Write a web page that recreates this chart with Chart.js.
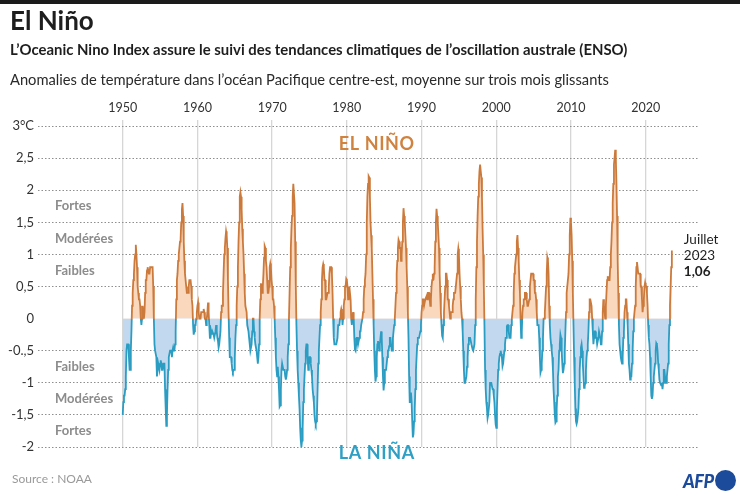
<!DOCTYPE html>
<html lang="fr">
<head>
<meta charset="utf-8">
<title>El Niño</title>
<script src="https://cdn.jsdelivr.net/npm/chart.js@4/dist/chart.umd.min.js"></script>
<style>
  html, body { margin: 0; padding: 0; background: #fff; }
  body { width: 740px; height: 496px; position: relative; overflow: hidden; font-family: Lato, "Noto Sans", sans-serif; color: #1e1e1e; }
  #topbar { position: absolute; left: 0; top: 0; width: 740px; height: 4px; background: #1b1b1b; }
  .txt { position: absolute; left: 10px; white-space: nowrap; }
  #title { top: 4px; font-size: 26px; font-weight: 700; }
  #subtitle { top: 40px; font-size: 14.9px; font-weight: 700; }
  #desc { top: 70px; font-size: 14.7px; font-weight: 400; color: #2a2a2a; }
  #source { left: 12px; top: 471px; font-size: 12px; color: #9a9a9a; }
  #afp { position: absolute; left: 683px; top: 469px; height: 22px; }
  #afp span { font-size: 18px; font-weight: 900; font-style: italic; color: #1d4b9b; letter-spacing: -0.5px; vertical-align: middle; }
  #afp i { display: inline-block; width: 21px; height: 21px; border-radius: 50%; background: #1d4b9b; vertical-align: middle; margin-left: 1px; }
  canvas { position: absolute; left: 0; top: 0; }
</style>
</head>
<body>
<canvas id="chart" width="740" height="496"></canvas>
<div id="topbar"></div>
<div class="txt" id="title">El Niño</div>
<div class="txt" id="subtitle">L’Oceanic Nino Index assure le suivi des tendances climatiques de l’oscillation australe (ENSO)</div>
<div class="txt" id="desc">Anomalies de température dans l’océan Pacifique centre-est, moyenne sur trois mois glissants</div>
<div class="txt" id="source">Source : NOAA</div>
<div id="afp"><span>AFP</span><i></i></div>
<script>
// Oceanic Nino Index, 3-month running mean, one value per month (DJF, JFM, ...)
const startYear = 1950;
const oni1950s = [
  -1.5, -1.3, -1.2, -1.2, -1.1, -0.9, -0.5, -0.4, -0.4, -0.4, -0.6, -0.8,
  -0.8, -0.5, -0.2, 0.2, 0.4, 0.6, 0.7, 0.9, 1.0, 1.15, 1.0, 0.8,
  0.5, 0.4, 0.3, 0.3, 0.2, 0.0, -0.1, 0.0, 0.2, 0.1, 0.0, 0.1,
  0.4, 0.6, 0.6, 0.75, 0.8, 0.75, 0.7, 0.7, 0.8, 0.8, 0.8, 0.8,
  0.8, 0.5, 0.0, -0.4, -0.5, -0.5, -0.6, -0.9, -0.8, -0.7, -0.7, -0.8,
  -0.7, -0.65, -0.7, -0.8, -0.8, -0.7, -0.7, -0.7, -1.1, -1.4, -1.67, -1.5,
  -1.1, -0.8, -0.6, -0.55, -0.5, -0.5, -0.5, -0.6, -0.5, -0.45, -0.5, -0.5,
  -0.4, -0.2, 0.3, 0.6, 0.7, 0.9, 1.0, 1.1, 1.2, 1.25, 1.5, 1.7,
  1.8, 1.6, 1.2, 0.9, 0.7, 0.6, 0.5, 0.4, 0.4, 0.4, 0.5, 0.6,
  0.6, 0.6, 0.5, 0.3, 0.2, -0.1, -0.25, -0.2, -0.1, -0.1, 0.0, 0.1
];
const oni1960s = [
  0.2, 0.25, 0.1, 0.0, 0.0, 0.0, 0.1, 0.1, 0.1, 0.1, 0.15, 0.1,
  0.0, 0.0, -0.1, 0.0, 0.1, 0.25, 0.1, -0.1, -0.3, -0.3, -0.2, -0.25,
  -0.2, -0.2, -0.25, -0.3, -0.3, -0.2, -0.1, -0.2, -0.3, -0.35, -0.45, -0.4,
  -0.4, -0.2, 0.1, 0.2, 0.2, 0.4, 0.7, 1.0, 1.1, 1.25, 1.36, 1.3,
  1.1, 0.6, 0.1, -0.3, -0.6, -0.6, -0.6, -0.7, -0.8, -0.83, -0.8, -0.8,
  -0.6, -0.3, -0.1, 0.2, 0.5, 0.8, 1.2, 1.5, 1.9, 1.97, 1.9, 1.7,
  1.4, 1.2, 1.0, 0.7, 0.4, 0.2, 0.2, 0.1, -0.1, -0.1, -0.2, -0.3,
  -0.4, -0.5, -0.5, -0.4, -0.2, 0.0, 0.0, -0.2, -0.3, -0.4, -0.4, -0.5,
  -0.6, -0.7, -0.6, -0.4, 0.0, 0.3, 0.55, 0.5, 0.4, 0.5, 0.7, 0.95,
  1.13, 1.1, 0.9, 0.8, 0.6, 0.4, 0.4, 0.5, 0.8, 0.86, 0.8, 0.6
];
const oni1970s = [
  0.5, 0.3, 0.3, 0.2, 0.0, -0.3, -0.6, -0.8, -0.9, -0.75, -0.9, -1.1,
  -1.37, -1.35, -1.1, -0.8, -0.7, -0.7, -0.8, -0.8, -0.8, -0.9, -0.95, -0.9,
  -0.8, -0.6, -0.4, 0.0, 0.4, 0.8, 1.1, 1.4, 1.6, 1.9, 2.1, 2.1,
  1.8, 1.2, 0.5, -0.1, -0.5, -0.8, -1.0, -1.2, -1.4, -1.7, -1.9, -2.0,
  -1.9, -1.7, -1.3, -1.1, -0.9, -0.7, -0.5, -0.4, -0.4, -0.6, -0.8, -0.7,
  -0.6, -0.6, -0.7, -0.8, -0.9, -1.1, -1.2, -1.3, -1.5, -1.6, -1.64, -1.6,
  -1.5, -1.1, -0.7, -0.5, -0.3, -0.1, 0.1, 0.3, 0.6, 0.8, 0.85, 0.8,
  0.6, 0.6, 0.3, 0.3, 0.3, 0.4, 0.4, 0.5, 0.7, 0.8, 0.8, 0.8,
  0.7, 0.4, 0.0, -0.3, -0.4, -0.4, -0.4, -0.4, -0.4, -0.3, -0.1, -0.1,
  -0.1, 0.0, 0.1, 0.15, 0.1, -0.1, 0.0, 0.2, 0.3, 0.5, 0.5, 0.62
];
const oni1980s = [
  0.6, 0.5, 0.3, 0.4, 0.5, 0.5, 0.3, 0.0, -0.1, 0.0, 0.1, 0.0,
  -0.3, -0.48, -0.5, -0.4, -0.3, -0.3, -0.4, -0.4, -0.3, -0.2, -0.2, -0.1,
  -0.1, 0.0, 0.1, 0.3, 0.5, 0.6, 0.7, 1.0, 1.5, 1.9, 2.1, 2.22,
  2.2, 1.9, 1.5, 1.3, 1.1, 0.7, 0.3, -0.1, -0.5, -0.8, -0.98, -0.9,
  -0.6, -0.4, -0.35, -0.4, -0.5, -0.4, -0.3, -0.2, -0.3, -0.6, -0.9, -1.12,
  -1.0, -0.8, -0.8, -0.8, -0.8, -0.6, -0.5, -0.5, -0.43, -0.3, -0.3, -0.4,
  -0.5, -0.5, -0.3, -0.2, -0.1, 0.0, 0.2, 0.4, 0.7, 0.9, 1.1, 1.23,
  1.2, 1.1, 1.1, 0.9, 1.0, 1.2, 1.5, 1.72, 1.6, 1.5, 1.3, 1.1,
  0.8, 0.5, 0.1, -0.3, -0.9, -1.3, -1.3, -1.15, -1.3, -1.6, -1.85, -1.8,
  -1.6, -1.4, -1.1, -0.8, -0.6, -0.4, -0.3, -0.3, -0.3, -0.3, -0.2, -0.1
];
const oni1990s = [
  0.1, 0.2, 0.3, 0.3, 0.2, 0.2, 0.3, 0.3, 0.35, 0.3, 0.4, 0.4,
  0.4, 0.3, 0.2, 0.3, 0.5, 0.6, 0.7, 0.6, 0.7, 0.8, 1.2, 1.5,
  1.71, 1.6, 1.5, 1.3, 1.1, 0.7, 0.4, 0.1, -0.1, -0.27, -0.3, -0.1,
  0.1, 0.3, 0.5, 0.7, 0.7, 0.6, 0.3, 0.3, 0.2, 0.1, 0.0, 0.1,
  0.1, 0.1, 0.2, 0.3, 0.4, 0.4, 0.4, 0.4, 0.6, 0.7, 1.0, 1.09,
  1.0, 0.7, 0.5, 0.3, 0.1, 0.0, -0.2, -0.5, -0.8, -1.0, -1.0, -1.0,
  -0.9, -0.75, -0.6, -0.4, -0.3, -0.3, -0.3, -0.3, -0.4, -0.4, -0.48, -0.5,
  -0.5, -0.4, -0.1, 0.3, 0.8, 1.2, 1.6, 1.9, 2.1, 2.3, 2.4, 2.4,
  2.2, 1.9, 1.4, 1.0, 0.5, -0.1, -0.8, -1.1, -1.3, -1.4, -1.55, -1.5,
  -1.5, -1.3, -1.0, -1.0, -1.0, -1.0, -1.1, -1.1, -1.2, -1.3, -1.5, -1.65
];
const oni2000s = [
  -1.7, -1.4, -1.1, -0.8, -0.7, -0.6, -0.55, -0.5, -0.55, -0.6, -0.74, -0.7,
  -0.7, -0.5, -0.4, -0.3, -0.3, -0.12, -0.1, -0.1, -0.2, -0.3, -0.3, -0.3,
  -0.1, 0.0, 0.1, 0.2, 0.4, 0.7, 0.8, 0.9, 1.0, 1.2, 1.3, 1.1,
  0.9, 0.6, 0.4, 0.0, -0.3, -0.2, 0.1, 0.2, 0.3, 0.3, 0.4, 0.4,
  0.4, 0.3, 0.2, 0.2, 0.2, 0.3, 0.5, 0.6, 0.7, 0.7, 0.7, 0.7,
  0.6, 0.6, 0.4, 0.4, 0.3, 0.1, -0.1, -0.1, -0.1, -0.3, -0.6, -0.84,
  -0.8, -0.7, -0.5, -0.3, 0.0, 0.0, 0.1, 0.3, 0.5, 0.7, 0.95, 0.9,
  0.7, 0.2, -0.1, -0.3, -0.4, -0.5, -0.6, -0.8, -1.1, -1.3, -1.5, -1.62,
  -1.6, -1.4, -1.2, -0.9, -0.8, -0.5, -0.4, -0.25, -0.3, -0.5, -0.7, -0.85,
  -0.8, -0.7, -0.5, -0.2, 0.1, 0.4, 0.5, 0.5, 0.7, 1.0, 1.3, 1.57
];
const oni2010s = [
  1.5, 1.3, 0.9, 0.4, -0.1, -0.6, -1.0, -1.4, -1.6, -1.64, -1.6, -1.6,
  -1.4, -1.1, -0.8, -0.6, -0.45, -0.4, -0.5, -0.7, -0.9, -1.08, -1.05, -1.0,
  -0.8, -0.6, -0.5, -0.4, -0.2, 0.1, 0.3, 0.3, 0.3, 0.2, 0.0, -0.2,
  -0.4, -0.3, -0.2, -0.2, -0.3, -0.3, -0.4, -0.4, -0.3, -0.2, -0.2, -0.3,
  -0.4, -0.4, -0.2, 0.1, 0.3, 0.2, 0.1, 0.0, 0.2, 0.4, 0.6, 0.66,
  0.6, 0.6, 0.6, 0.8, 1.0, 1.2, 1.5, 1.8, 2.1, 2.4, 2.5, 2.63,
  2.5, 2.1, 1.6, 0.9, 0.4, -0.1, -0.4, -0.5, -0.6, -0.66, -0.7, -0.6,
  -0.3, -0.2, 0.1, 0.2, 0.3, 0.3, 0.1, -0.1, -0.4, -0.7, -0.8, -0.95,
  -0.9, -0.9, -0.7, -0.5, -0.2, 0.0, 0.1, 0.2, 0.5, 0.8, 0.88, 0.8,
  0.7, 0.7, 0.7, 0.7, 0.5, 0.5, 0.3, 0.1, 0.2, 0.3, 0.5, 0.56
];
const oni2020s = [
  0.5, 0.5, 0.4, 0.2, -0.1, -0.3, -0.4, -0.6, -0.9, -1.2, -1.25, -1.2,
  -1.0, -0.9, -0.8, -0.7, -0.5, -0.38, -0.4, -0.5, -0.7, -0.8, -0.95, -1.0,
  -1.0, -1.04, -1.0, -1.1, -1.0, -0.8, -0.8, -0.9, -1.0, -1.0, -0.9, -0.8,
  -0.7, -0.4, -0.1, 0.2, 0.5, 0.8, 1.06
];
const oniMonthly = [...oni1950s, ...oni1960s, ...oni1970s, ...oni1980s, ...oni1990s, ...oni2000s, ...oni2010s, ...oni2020s];

const decadeTicks = [1950, 1960, 1970, 1980, 1990, 2000, 2010, 2020];
const yTickValues = [3, 2.5, 2, 1.5, 1, 0.5, 0, -0.5, -1, -1.5, -2];
const yTickLabels = ['3°C', '2,5', '2', '1,5', '1', '0,5', '0', '-0.,5', '-1', '-1,5', '-2'];
const intensityLabels = ['Fortes', 'Modérées', 'Faibles'];
const intensityLevels = [1.75, 1.25, 0.75];
const lastLabel = ['Juillet', '2023', '1,06'];

const ORANGE = '#cc7a3c';
const PEACH = '#f9d8bd';
const BLUE = '#2b9cc2';
const LIGHTBLUE = '#c1d8ee';
const FONT = 'Lato, "Noto Sans", sans-serif';

const points = oniMonthly.map((v, i) => ({ x: startYear + i / 12, y: v }));

// line is orange above zero and blue below: vertical gradient with a hard stop at y = 0
function splitColor(context) {
  const chart = context.chart;
  const area = chart.chartArea;
  if (!area) return ORANGE;
  const y0 = chart.scales.y.getPixelForValue(0);
  const g = chart.ctx.createLinearGradient(0, area.top, 0, area.bottom);
  const f = Math.min(1, Math.max(0, (y0 - area.top) / (area.bottom - area.top)));
  g.addColorStop(0, ORANGE);
  g.addColorStop(f, ORANGE);
  g.addColorStop(f, BLUE);
  g.addColorStop(1, BLUE);
  return g;
}

const annotations = {
  id: 'annotations',
  afterDatasetsDraw(chart) {
    const { ctx, scales: { x, y } } = chart;
    ctx.save();
    ctx.textBaseline = 'middle';

    // intensity bands, mirrored on both sides of zero
    ctx.font = `700 13px ${FONT}`;
    ctx.fillStyle = '#8c8c8c';
    ctx.textAlign = 'left';
    intensityLabels.forEach((t, i) => {
      ctx.fillText(t, 55, y.getPixelForValue(intensityLevels[i]));
      ctx.fillText(t, 55, y.getPixelForValue(-intensityLevels[i]));
    });

    ctx.textAlign = 'center';
    ctx.font = `700 18px ${FONT}`;
    if ('letterSpacing' in ctx) ctx.letterSpacing = '0.6px';
    ctx.fillStyle = '#d0823f';
    ctx.fillText('EL NIÑO', x.getPixelForValue(1984.0), y.getPixelForValue(2.72));
    ctx.fillStyle = '#2f9fc4';
    ctx.fillText('LA NIÑA', x.getPixelForValue(1984.0), y.getPixelForValue(-2.09));
    if ('letterSpacing' in ctx) ctx.letterSpacing = '0px';

    // label of the latest value
    const last = points[points.length - 1];
    const lx = x.getPixelForValue(last.x) + 12;
    const ly = y.getPixelForValue(last.y);
    ctx.textAlign = 'left';
    ctx.fillStyle = '#1e1e1e';
    ctx.font = `400 13.5px ${FONT}`;
    ctx.fillText(lastLabel[0], lx, ly - 11);
    ctx.fillText(lastLabel[1], lx, ly + 5);
    ctx.font = `700 13.5px ${FONT}`;
    ctx.fillText(lastLabel[2], lx, ly + 21);
    ctx.restore();
  }
};

new Chart(document.getElementById('chart'), {
  type: 'line',
  data: {
    datasets: [{
      data: points,
      borderColor: splitColor,
      borderWidth: 1.8,
      pointRadius: 0,
      tension: 0,
      fill: { target: { value: 0 }, above: PEACH, below: LIGHTBLUE }
    }]
  },
  plugins: [annotations],
  options: {
    responsive: false,
    animation: false,
    devicePixelRatio: 1,
    layout: { padding: { top: 96, right: 42, bottom: 49, left: 0 } },
    plugins: { legend: { display: false }, tooltip: { enabled: false } },
    scales: {
      x: {
        type: 'linear',
        position: 'top',
        min: 1938.66,
        max: 2027.0,
        afterBuildTicks: (s) => { s.ticks = decadeTicks.map(v => ({ value: v })); },
        afterFit: (s) => { s.height = 23.6; },
        border: { display: false },
        grid: { color: '#d6d6d6', lineWidth: 1.3, drawTicks: false },
        ticks: { padding: 4, color: '#333', font: { family: FONT, size: 12.5 }, maxRotation: 0, callback: (v) => String(v) }
      },
      y: {
        min: -2,
        max: 3.1,
        afterBuildTicks: (s) => { s.ticks = yTickValues.map(v => ({ value: v })); },
        afterFit: (s) => { s.width = 38; },
        border: { display: false, dash: [1.5, 2] },
        grid: {
          drawTicks: false,
          lineWidth: 1,
          color: (c) => (c.tick && c.tick.value === 0 ? 'rgba(0,0,0,0)' : '#8e8e8e')
        },
        ticks: {
          padding: 4,
          color: '#333',
          font: { family: FONT, size: 13 },
          callback: (v) => yTickLabels[yTickValues.indexOf(v)]
        }
      }
    }
  }
});
</script>
</body>
</html>
